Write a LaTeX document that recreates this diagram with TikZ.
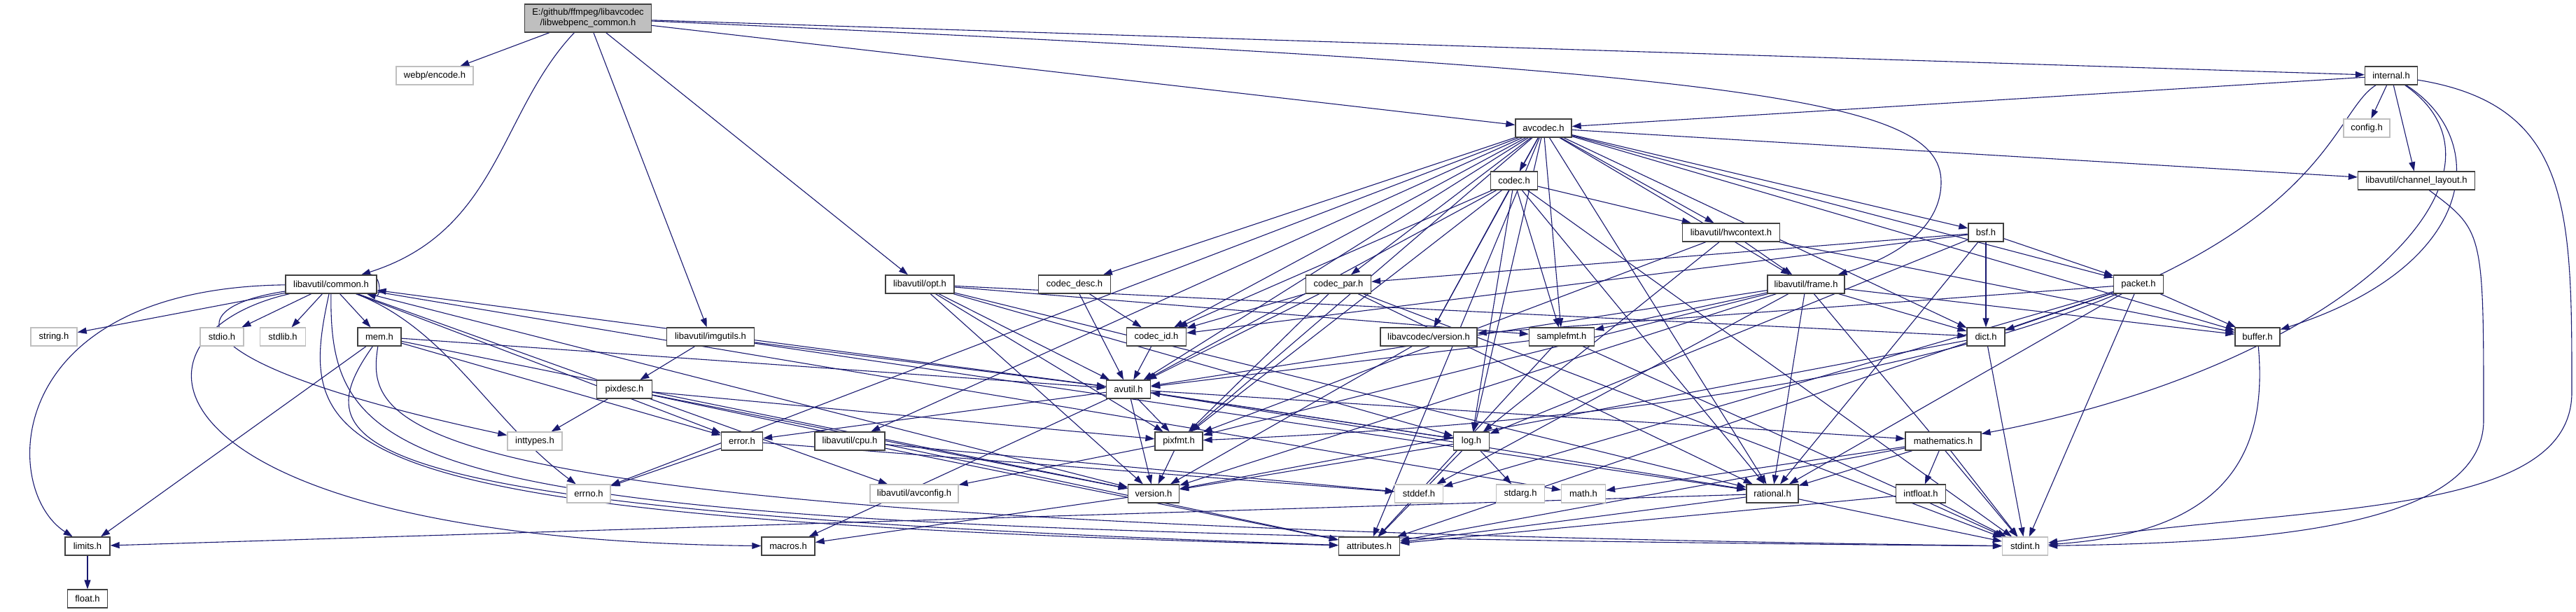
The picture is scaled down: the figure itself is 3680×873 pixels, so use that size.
\documentclass[tikz,border=0pt]{standalone}
\usepackage{fontspec}
\setmainfont{Liberation Sans}
\usepackage{xcolor}
\usetikzlibrary{arrows.meta}
\definecolor{edgeblue}{HTML}{191970}
\definecolor{extgray}{HTML}{BFBFBF}
\pgfdeclarelayer{paper}
\pgfdeclarelayer{wires}
\pgfsetlayers{paper,wires,main}
\tikzset{
  hdr/.style={draw=black!75, line width=1.3pt, fill=white, inner sep=0pt, minimum height=26pt, font=\fontsize{13}{15}\selectfont},
  extbox/.style={hdr, draw=extgray},
  rootbox/.style={hdr, fill=extgray, minimum height=40pt, align=center},
  dep/.style={edgeblue, line width=1.1pt, -{Triangle[length=13pt,width=9pt]}}
}

\begin{document}
\begin{tikzpicture}[x=1pt,y=-1pt]
  \begin{pgfonlayer}{paper}
    \fill[white] (0,0) rectangle (3680,873);
  \end{pgfonlayer}
  \useasboundingbox (0,0) rectangle (3680,873);
  % top
  \node[rootbox, minimum width=181pt] (root) at (840,26) {E:/github/ffmpeg/libavcodec\\/libwebpenc\_common.h};
  \node[extbox, minimum width=110pt] (webpenc) at (621,108) {webp/encode.h};
  \node[hdr, minimum width=75pt] (internal) at (3416,108) {internal.h};
  \node[extbox, minimum width=66pt] (config) at (3381,183) {config.h};
  \node[hdr, minimum width=80pt] (avcodec) at (2205,183) {avcodec.h};
  \node[hdr, minimum width=167pt] (chlayout) at (3452,258) {libavutil/channel\_layout.h};
  \node[hdr, minimum width=67pt] (codec) at (2163,258) {codec.h};
  \node[hdr, minimum width=139pt] (hwctx) at (2473,332) {libavutil/hwcontext.h};
  \node[hdr, minimum width=50pt] (bsf) at (2837,332) {bsf.h};
  % middle rows
  \node[hdr, minimum width=130pt] (common) at (473,406) {libavutil/common.h};
  \node[hdr, minimum width=98pt] (opt) at (1314,406) {libavutil/opt.h};
  \node[hdr, minimum width=103pt] (codecdesc) at (1535,406) {codec\_desc.h};
  \node[hdr, minimum width=93pt] (codecpar) at (1912,406) {codec\_par.h};
  \node[hdr, minimum width=110pt] (frame) at (2580,406) {libavutil/frame.h};
  \node[hdr, minimum width=71pt] (packet) at (3055,406) {packet.h};
  \node[extbox, minimum width=66pt] (stringh) at (77,481) {string.h};
  \node[extbox, minimum width=62pt] (stdioh) at (317,481) {stdio.h};
  \node[extbox, minimum width=65pt] (stdlibh) at (404,481) {stdlib.h};
  \node[hdr, minimum width=62pt] (mem) at (542,481) {mem.h};
  \node[hdr, minimum width=125pt] (imgutils) at (1015,481) {libavutil/imgutils.h};
  \node[hdr, minimum width=85pt] (codecid) at (1652,481) {codec\_id.h};
  \node[hdr, minimum width=138pt] (lavcver) at (2041,481) {libavcodec/version.h};
  \node[hdr, minimum width=93pt] (samplefmt) at (2231,481) {samplefmt.h};
  \node[hdr, minimum width=54pt] (dict) at (2837,481) {dict.h};
  \node[hdr, minimum width=64pt] (buffer) at (3225,481) {buffer.h};
  \node[hdr, minimum width=79pt] (pixdesc) at (892,556) {pixdesc.h};
  \node[hdr, minimum width=63pt] (avutil) at (1612,556) {avutil.h};
  \node[extbox, minimum width=78pt] (inttypes) at (764,630) {inttypes.h};
  \node[hdr, minimum width=59pt] (error) at (1060,630) {error.h};
  \node[hdr, minimum width=100pt] (cpu) at (1214,630) {libavutil/cpu.h};
  \node[hdr, minimum width=68pt] (pixfmt) at (1684,630) {pixfmt.h};
  \node[hdr, minimum width=51pt] (log) at (2102,630) {log.h};
  \node[hdr, minimum width=108pt] (mathematics) at (2776,630) {mathematics.h};
  % bottom rows
  \node[extbox, minimum width=62pt] (errno) at (841,705) {errno.h};
  \node[extbox, minimum width=126pt] (avconfig) at (1306,705) {libavutil/avconfig.h};
  \node[hdr, minimum width=73pt] (version) at (1648,705) {version.h};
  \node[extbox, minimum width=69pt] (stddef) at (2027,705) {stddef.h};
  \node[extbox, minimum width=69pt] (stdarg) at (2172,705) {stdarg.h};
  \node[extbox, minimum width=63pt] (mathh) at (2262,705) {math.h};
  \node[hdr, minimum width=74pt] (rational) at (2532,705) {rational.h};
  \node[hdr, minimum width=71pt] (intfloat) at (2744,705) {intfloat.h};
  \node[hdr, minimum width=64pt] (limits) at (125,780) {limits.h};
  \node[hdr, minimum width=76pt] (macros) at (1126,780) {macros.h};
  \node[hdr, minimum width=87pt] (attributes) at (1956,780) {attributes.h};
  \node[extbox, minimum width=65pt] (stdint) at (2893,780) {stdint.h};
  \node[hdr, minimum width=57pt] (floath) at (125,855) {float.h};

  \begin{pgfonlayer}{wires}
  % includes of the root file
  \path (root) edge[dep] (webpenc) edge[dep] (imgutils) edge[dep] (opt)
               edge[dep] (avcodec) edge[dep] (internal);
  \draw[dep] (root) .. controls (713,160) and (713,330) .. (common);
  \draw[dep] (root) .. controls (2500,100) and (2773,140) .. (2773,260)
                    .. controls (2773,330) and (2700,370) .. (frame);
  % internal.h
  \path (internal) edge[dep] (avcodec) edge[dep] (config) edge[dep] (chlayout);
  \draw[dep] (internal) .. controls (3300,180) and (3330,560) .. (pixfmt);
  \draw[dep] (internal) .. controls (3560,200) and (3540,380) .. (buffer);
  \draw[dep] (internal) .. controls (3620,250) and (3350,520) .. (mathematics);
  \draw[dep] (internal) .. controls (3674,150) and (3674,300) .. (3674,560)
                        .. controls (3674,740) and (3300,720) .. (stdint);
  % avcodec.h
  \path (avcodec) edge[dep] (errno) edge[dep] (samplefmt) edge[dep] (attributes)
                  edge[dep] (avutil) edge[dep] (buffer) edge[dep] (cpu)
                  edge[dep] (chlayout) edge[dep] (dict) edge[dep] (frame)
                  edge[dep] (hwctx) edge[dep] (log) edge[dep] (pixfmt)
                  edge[dep] (rational) edge[dep] (bsf) edge[dep] (codec)
                  edge[dep] (codecdesc) edge[dep] (codecpar) edge[dep] (codecid)
                  edge[dep] (packet) edge[dep] (lavcver);
  % codec.h, codec_desc.h, codec_id.h, codec_par.h
  \path (codec) edge[dep] (stdint) edge[dep] (avutil) edge[dep] (hwctx)
                edge[dep] (log) edge[dep] (pixfmt) edge[dep] (rational)
                edge[dep] (samplefmt) edge[dep] (codecid) edge[dep] (lavcver);
  \path (codecdesc) edge[dep] (avutil) edge[dep] (codecid);
  \path (codecid) edge[dep] (avutil);
  \path (codecpar) edge[dep] (stdint) edge[dep] (avutil) edge[dep] (rational)
                   edge[dep] (pixfmt) edge[dep] (codecid);
  % bsf.h, packet.h
  \path (bsf) edge[dep] (dict) edge[dep] (log) edge[dep] (rational)
              edge[dep] (codecid) edge[dep] (codecpar) edge[dep] (packet);
  \path (packet) edge[dep] (stddef) edge[dep] (stdint) edge[dep] (attributes)
                 edge[dep] (buffer) edge[dep] (dict) edge[dep] (rational)
                 edge[dep] (lavcver);
  \path (lavcver) edge[dep] (version);
  \draw[dep] (chlayout) .. controls (3548,330) .. (3548,600)
                        .. controls (3548,760) and (3200,775) .. (stdint);
  % libavutil headers
  \path (hwctx) edge[dep] (buffer) edge[dep] (frame) edge[dep] (log) edge[dep] (pixfmt);
  \path (frame) edge[dep] (stddef) edge[dep] (stdint) edge[dep] (avutil)
                edge[dep] (buffer) edge[dep] (dict) edge[dep] (rational)
                edge[dep] (samplefmt) edge[dep] (pixfmt) edge[dep] (version);
  \path (samplefmt) edge[dep] (stdint) edge[dep] (avutil) edge[dep] (attributes);
  \path (dict) edge[dep] (stdint) edge[dep] (version);
  \draw[dep] (buffer) .. controls (3240,650) and (3180,760) .. (stdint);
  \path (opt) edge[dep] (rational) edge[dep] (avutil) edge[dep] (dict)
              edge[dep] (log) edge[dep] (pixfmt) edge[dep] (samplefmt)
              edge[dep] (version);
  \path (imgutils) edge[dep] (avutil) edge[dep] (pixdesc) edge[dep] (rational);
  \path (pixdesc) edge[dep] (inttypes) edge[dep] (attributes) edge[dep] (pixfmt)
                  edge[dep] (version);
  \path (avutil) edge[dep] (common) edge[dep] (error) edge[dep] (rational)
                 edge[dep] (version) edge[dep] (macros) edge[dep] (mathematics)
                 edge[dep] (log) edge[dep] (pixfmt);
  % common.h
  \path (common) edge[dep] (stringh) edge[dep] (stdioh) edge[dep] (stdlibh)
                 edge[dep] (mem) edge[dep] (mathh) edge[dep] (version)
                 edge[dep] (avconfig) edge[dep] (error);
  \path (common) edge[dep, loop right, min distance=22pt] (common);
  \draw[dep] (common) .. controls (0,412) and (0,700) .. (limits);
  \draw[dep] (common) .. controls (150,480) and (200,770) .. (macros);
  \draw[dep] (common) .. controls (250,440) and (250,520) .. (inttypes);
  \draw[dep] (common) .. controls (640,470) and (700,600) .. (errno);
  \draw[dep] (common) .. controls (420,650) and (450,740) .. (attributes);
  \draw[dep] (common) .. controls (470,700) and (600,760) .. (stdint);
  % mem.h
  \path (mem) edge[dep] (limits) edge[dep] (error) edge[dep] (avutil) edge[dep] (version);
  \draw[dep] (mem) .. controls (430,640) and (470,730) .. (attributes);
  \draw[dep] (mem) .. controls (520,620) and (560,750) .. (stdint);
  % leaves
  \path (error) edge[dep] (errno) edge[dep] (stddef);
  \path (cpu) edge[dep] (stddef) edge[dep] (attributes);
  \path (log) edge[dep] (stdarg) edge[dep] (avutil) edge[dep] (attributes) edge[dep] (version);
  \path (pixfmt) edge[dep] (avconfig) edge[dep] (version);
  \path (version) edge[dep] (macros);
  \path (mathematics) edge[dep] (stdint) edge[dep] (mathh) edge[dep] (attributes)
                      edge[dep] (rational) edge[dep] (intfloat);
  \path (intfloat) edge[dep] (stdint) edge[dep] (attributes);
  \path (rational) edge[dep] (stdint) edge[dep] (limits) edge[dep] (attributes);
  \path (limits) edge[dep] (floath);
  \end{pgfonlayer}
\end{tikzpicture}
\end{document}
